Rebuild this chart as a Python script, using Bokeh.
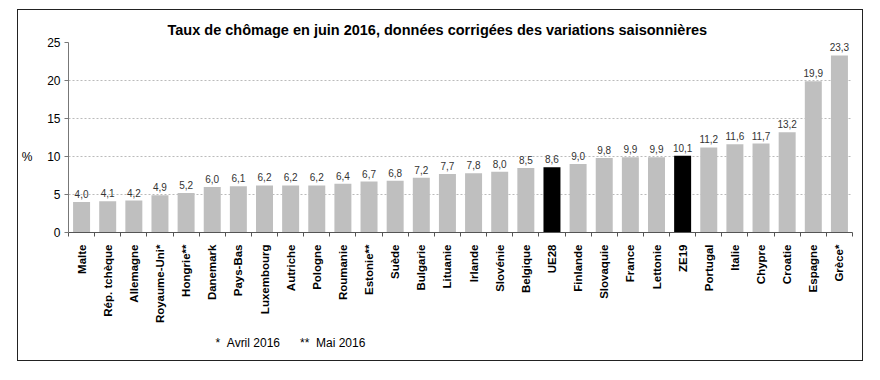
import math
from bokeh.plotting import figure
from bokeh.models import (ColumnDataSource, FixedTicker, Range1d, LabelSet, Title, LinearAxis)
from bokeh.core.properties import value
from bokeh.embed import file_html
from bokeh.resources import INLINE

countries = ["Malte", "Rép. tchèque", "Allemagne", "Royaume-Uni*", "Hongrie**", "Danemark",
             "Pays-Bas", "Luxembourg", "Autriche", "Pologne", "Roumanie", "Estonie**",
             "Suède", "Bulgarie", "Lituanie", "Irlande", "Slovénie", "Belgique", "UE28",
             "Finlande", "Slovaquie", "France", "Lettonie", "ZE19", "Portugal", "Italie",
             "Chypre", "Croatie", "Espagne", "Grèce*"]
rates = [4.0, 4.1, 4.2, 4.9, 5.2, 6.0, 6.1, 6.2, 6.2, 6.2, 6.4, 6.7, 6.8, 7.2, 7.7,
         7.8, 8.0, 8.5, 8.6, 9.0, 9.8, 9.9, 9.9, 10.1, 11.2, 11.6, 11.7, 13.2, 19.9, 23.3]
aggregates = ["UE28", "ZE19"]
y_ticks = [0, 5, 10, 15, 20, 25]
unit_tick = [10]
unit_label = "%"
title_text = "Taux de chômage en juin 2016, données corrigées des variations saisonnières"
footnote = "*\u00a0\u00a0Avril 2016\u00a0\u00a0\u00a0\u00a0\u00a0\u00a0**\u00a0\u00a0Mai 2016"

FONT = "Liberation Sans"
n = len(countries)
xs = [i + 0.5 for i in range(n)]
colors = ["#000000" if c in aggregates else "#BFBFBF" for c in countries]
labels = [f"{v:.1f}".replace(".", ",") for v in rates]
src = ColumnDataSource(dict(x=xs, top=rates, color=colors, label=labels))

p = figure(width=846, height=352, output_backend="svg", toolbar_location=None,
           x_range=Range1d(0, n), y_range=Range1d(0, 25),
           min_border_left=47, min_border_right=12, min_border_top=32, min_border_bottom=130)
p.margin = (9, 0, 0, 17)
p.styles = {"border": "1px solid #222222"}
p.outline_line_color = None
p.background_fill_color = "white"
p.border_fill_color = "white"

p.title = Title(text=title_text, align="left", offset=99, text_font=FONT,
                text_font_size="14.5px", text_font_style="bold", text_color="#000000")

p.vbar(x="x", top="top", width=0.65, color="color", line_color=None, source=src)

p.add_layout(LabelSet(x="x", y="top", text="label", source=src, text_align="center",
                      text_baseline="bottom", y_offset=4, text_font=value(FONT),
                      text_font_size=value("10px"), text_color="#333333"))

# y axis
p.yaxis.ticker = FixedTicker(ticks=y_ticks)
p.yaxis.major_tick_out = 4
p.yaxis.major_tick_in = 0
p.yaxis.minor_tick_line_color = None
p.yaxis.axis_line_color = "#777777"
p.yaxis.major_tick_line_color = "#777777"
p.yaxis.major_label_text_font = FONT
p.yaxis.major_label_text_font_size = "12px"
p.yaxis.major_label_text_color = "#000000"
p.yaxis.major_label_standoff = 4

# unit label "%" as an outer axis label
unit_axis = LinearAxis(ticker=FixedTicker(ticks=unit_tick),
                       major_label_overrides={t: unit_label for t in unit_tick})
unit_axis.axis_line_color = None
unit_axis.major_tick_line_color = None
unit_axis.minor_tick_line_color = None
unit_axis.major_tick_out = 0
unit_axis.major_label_standoff = 12
unit_axis.major_label_text_font = FONT
unit_axis.major_label_text_font_size = "12px"
unit_axis.major_label_text_color = "#000000"
p.add_layout(unit_axis, "left")

# x axis: labels at centres, tick marks between categories
p.xaxis[0].ticker = FixedTicker(ticks=xs, minor_ticks=list(range(n + 1)))
p.xaxis[0].major_label_overrides = {x: c for x, c in zip(xs, countries)}
p.xaxis[0].major_label_orientation = math.pi / 2
p.xaxis[0].major_tick_line_color = None
p.xaxis[0].minor_tick_out = 4
p.xaxis[0].minor_tick_in = 0
p.xaxis[0].minor_tick_line_color = "#555555"
p.xaxis[0].axis_line_color = "#555555"
p.xaxis[0].major_label_text_font = FONT
p.xaxis[0].major_label_text_font_size = "11.5px"
p.xaxis[0].major_label_text_font_style = "bold"
p.xaxis[0].major_label_text_color = "#000000"
p.xaxis[0].major_label_standoff = 6

p.xgrid.grid_line_color = None
p.ygrid.ticker = FixedTicker(ticks=y_ticks)
p.ygrid.grid_line_color = "#BBBBBB"
p.ygrid.grid_line_dash = "2 2"

p.add_layout(Title(text=footnote, align="left", offset=147, standoff=14, text_font=FONT,
                   text_font_size="12px", text_font_style="normal", text_color="#000000"),
             "below")

open("out.html", "w").write(file_html(p, INLINE))
